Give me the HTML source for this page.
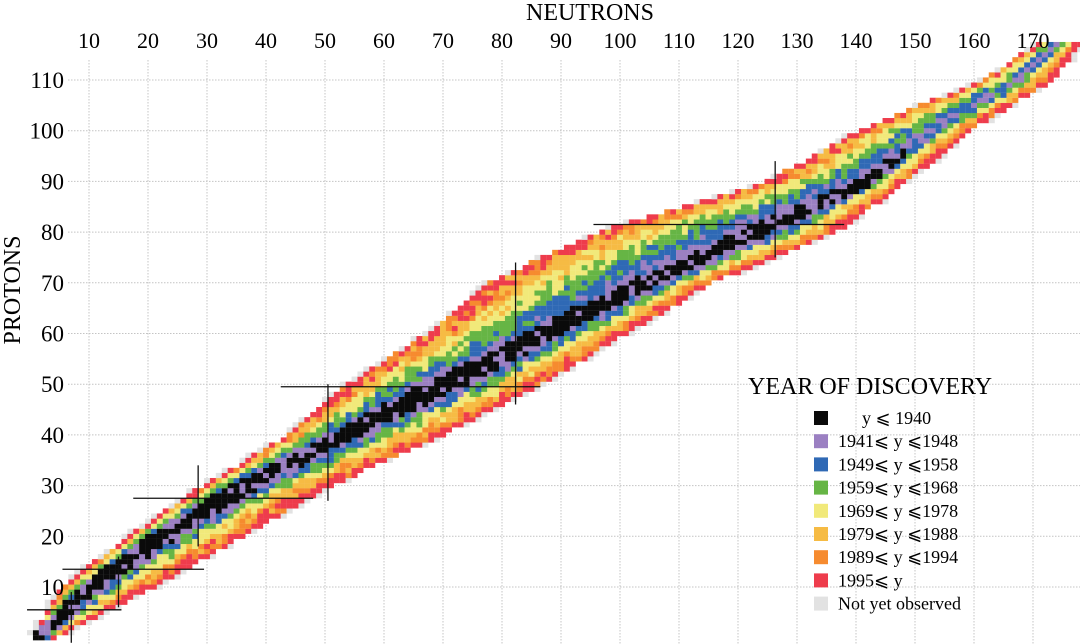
<!DOCTYPE html>
<html><head><meta charset="utf-8">
<style>
html,body{margin:0;padding:0;background:#fff;}
svg{display:block;font-family:"Liberation Serif",serif;}
</style></head>
<body>
<svg id="chart" width="1080" height="644" viewBox="0 0 1080 644" xmlns="http://www.w3.org/2000/svg">
<g id="grid"></g>
<g id="cells"></g>
<g id="magic"></g>
<g id="xticks"></g>
<g id="yticks"></g>
<text x="590" y="20" font-size="24" text-anchor="middle">NEUTRONS</text>
<text transform="translate(20,290) rotate(-90)" font-size="24" text-anchor="middle">PROTONS</text>
<g id="legend">
<text x="748" y="394" font-size="24">YEAR OF DISCOVERY</text>
</g>
</svg>
<script>
// ---- data (sampled every 10 protons) ----
const zSamples   = [0,   10,   20,   30,   40,   50,   60,   70,   80,    90,    100,   110,  117];
const leftEdge   = [0.5, 5.9,  17,   29.7, 44.2, 54.4, 67.8, 78,   96.6,  125.4, 140.7, 161.9,171];
const stableMid  = [1.5, 10.5, 22.4, 36.4, 53.4, 70.3, 87.3, 104,  122.9, 141.5, 153,   167,  174];
const stableHalf = [1.2, 1.5,  2.2,  2.5,  2.5,  4,    3,    3,    3,     2,     -1,    -2,   -2];
const rightEdge  = [4,   20.5, 35.6, 50.8, 69.5, 86.4, 100.8,115.3,136.4, 148.3, 159,   172.9,177.6];
const categories = ["black","purple","blue","green","yellow","lorange","orange","red","gray"];
const catColors  = ["#0a0a0a","#9b80c2","#2f69b5","#66b545","#f1e97a","#f6bb44","#f68b2f","#ee3c4c","#e2e2e2"];
const legendLabels = ["y \u2A7D 1940","1941\u2A7D y \u2A7D1948","1949\u2A7D y \u2A7D1958","1959\u2A7D y \u2A7D1968","1969\u2A7D y \u2A7D1978","1979\u2A7D y \u2A7D1988","1989\u2A7D y \u2A7D1994","1995\u2A7D y","Not yet observed"];
const leftWeights  = [0.08,0.2,0.2,0.2,0.17,0.08,0.07];
const rightWeights = [0.08,0.15,0.12,0.18,0.17,0.15,0.15];
const xTicks = [10,20,30,40,50,60,70,80,90,100,110,120,130,140,150,160,170];
const yTicks = [10,20,30,40,50,60,70,80,90,100,110];
const magicN = [7,15,28.5,50.5,82.3,126.3];
const magicNz = [[-1,9],[6,16],[18,34],[27,50],[46,74],[75,94]];
const magicZ = [5.5,13.5,27.5,49.5,81.5];
const magicZn = [[-0.5,15.5],[5.5,29.5],[17.5,48],[42.5,86.5],[95.5,138]];

const NS="http://www.w3.org/2000/svg";
function X(n){return 89+(n-10)*5.9;}
function Y(z){return 587-(z-10)*5.07;}
function mk(tag,attrs,parent){const e=document.createElementNS(NS,tag);for(const k in attrs)e.setAttribute(k,attrs[k]);parent.appendChild(e);return e;}
function interp(arr,z){
  for(let i=0;i<zSamples.length-1;i++){
    if(z<=zSamples[i+1]){const t=(z-zSamples[i])/(zSamples[i+1]-zSamples[i]);return arr[i]+(arr[i+1]-arr[i])*t;}
  }
  return arr[arr.length-1];
}
function hash(a,b){let h=(a*374761393+b*668265263)>>>0;h=((h^(h>>>13))*1274126177)>>>0;return ((h^(h>>>16))>>>0)/4294967295;}

// grid
const grid=document.getElementById('grid');
xTicks.forEach(t=>{const l=mk('line',{x1:X(t),x2:X(t),y1:60,y2:644,stroke:"#c4c4c4","stroke-width":1,"stroke-dasharray":"1.5,1.5"},grid);

});
yTicks.forEach(t=>{const l=mk('line',{x1:68,x2:1080,y1:Y(t),y2:Y(t),stroke:"#c4c4c4","stroke-width":1,"stroke-dasharray":"1.5,1.5"},grid);

});

// tick labels
const xt=document.getElementById('xticks');
xTicks.forEach(t=>{const e=mk('text',{x:X(t),y:48,"font-size":22,"text-anchor":"middle"},xt);e.textContent=t;

});
const yt=document.getElementById('yticks');
yTicks.forEach(t=>{const e=mk('text',{x:64,y:Y(t)+8,"font-size":23,"text-anchor":"end"},yt);e.textContent=t;

});

// cells
const cells=document.getElementById('cells');
function pick(weights,t){let acc=0;for(let i=0;i<weights.length;i++){acc+=weights[i];if(t<=acc)return i+1;}return 7;}
for(let z=0;z<=117;z++){
  const L=interp(leftEdge,z),R=interp(rightEdge,z),M=interp(stableMid,z),H=interp(stableHalf,z);
  const n0=Math.round(L)-1,n1=Math.round(R)+1;
  for(let n=n0;n<=n1;n++){
    const j=(hash(n,z)-0.5)*0.3;
    let ci;
    if(n<Math.round(L)||n>Math.round(R)){ if(hash(z,n)<0.4) continue; ci=8; }
    else if(Math.abs(n-M)<=H+ (hash(n+7,z)-0.5)*1.6){ ci = hash(n,z+3)<0.18?1:0; }
    else if(n<M){ const d=M-Math.max(H,0); const t=Math.min(1,Math.max(0,(d-n)/Math.max(1,d-L)+j)); ci=pick(leftWeights,t); }
    else { const s=M+Math.max(H,0); const t=Math.min(1,Math.max(0,(n-s)/Math.max(1,R-s)+j)); ci=pick(rightWeights,t); }
    const r=mk('rect',{x:(X(n)-2.95).toFixed(2),y:(Y(z)-2.55).toFixed(2),width:6.0,height:5.2,fill:catColors[ci]},cells);
    
    
  }
}

// magic lines
const mg=document.getElementById('magic');
magicN.forEach((n,i)=>{const l=mk('line',{x1:X(n),x2:X(n),y1:Y(magicNz[i][1]),y2:Y(magicNz[i][0]),stroke:"#111","stroke-width":1.3},mg);

});
magicZ.forEach((z,i)=>{const l=mk('line',{x1:X(magicZn[i][0]),x2:X(magicZn[i][1]),y1:Y(z),y2:Y(z),stroke:"#111","stroke-width":1.3},mg);

});

// legend
const lg=document.getElementById('legend');
legendLabels.forEach((lab,i)=>{
  const y=418+i*23.2;
  const r=mk('rect',{x:814,y:y-7,width:14,height:14,fill:catColors[i]},lg);
  
  
  const t=mk('text',{x:i===0?862:838,y:y+6,"font-size":18},lg);t.textContent=lab;
  
  
});
</script>
</body></html>
